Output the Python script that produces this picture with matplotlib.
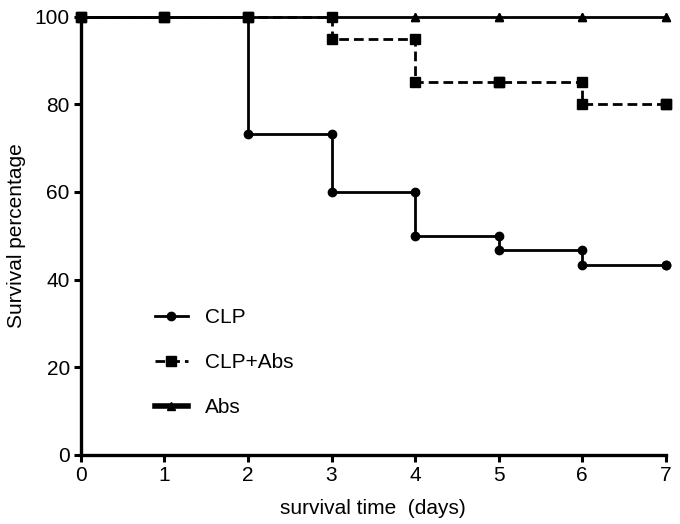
import numpy as np
import matplotlib.pyplot as plt

plt.rcParams['font.family'] = ['Liberation Sans', 'DejaVu Sans']

days = [0, 1, 2, 3, 4, 5, 6, 7]
clp = [100, 100, 73.3, 60, 50, 46.7, 43.3, 43.3]
clp_abs = [100, 100, 100, 95, 85, 85, 80, 80]
abs_only = [100, 100, 100, 100, 100, 100, 100, 100]


def km(ax, x, y, ls, marker, ms, label, zorder):
    x = np.array(x)
    y = np.array(y)
    # value just before each day (for the marker at top of each drop)
    prev = np.concatenate([[y[0]], y[:-1]])
    line, = ax.plot(x, y, drawstyle='steps-post', color='black', lw=2.0,
                    ls=ls, zorder=zorder, label=label, clip_on=False,
                    marker=marker, markersize=ms)
    ax.plot(x, prev, ls='none', marker=marker, markersize=ms,
            color='black', zorder=zorder, clip_on=False)
    return line


fig = plt.figure(figsize=(6.8, 5.24), dpi=100)
ax = fig.add_axes([0.119, 0.132, 0.86, 0.836])

km(ax, days, abs_only, '-', '^', 6, 'Abs', 3)
km(ax, days, clp, '-', 'o', 6, 'CLP', 4)
km(ax, days, clp_abs, (0, (3.5, 1.8)), 's', 6.5, 'CLP+Abs', 5)

ax.set_xlim(0, 7)
ax.set_ylim(0, 100)
ax.set_xticks(range(0, 8))
ax.set_yticks(range(0, 101, 20))
for s in ['top', 'right']:
    ax.spines[s].set_visible(False)
for s in ['left', 'bottom']:
    ax.spines[s].set_linewidth(2.4)
ax.tick_params(width=2.2, length=5, labelsize=15, direction='out', pad=3)
ax.set_xlabel('survival time  (days)', fontsize=15, labelpad=10)
ax.set_ylabel('Survival percentage', fontsize=15, labelpad=6)

h = ax.get_legend_handles_labels()[0]
leg = ax.legend([h[1], h[2], h[0]], ['CLP', 'CLP+Abs', 'Abs'],
                loc='lower left', bbox_to_anchor=(0.095, 0.043),
                frameon=False, fontsize=15, handlelength=1.55,
                labelspacing=1.25, handletextpad=0.85)
leg.get_lines()[2].set_linewidth(4)

fig.savefig('out.png', dpi=100)
